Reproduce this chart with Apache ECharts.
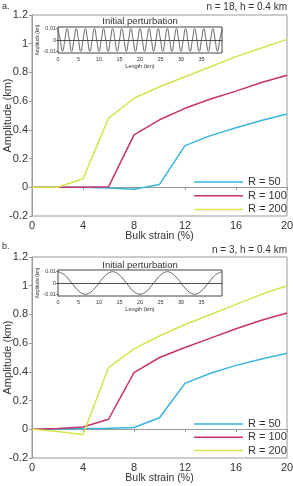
<!DOCTYPE html>
<html>
<head>
<meta charset="utf-8">
<script src="https://cdn.jsdelivr.net/npm/echarts@6/dist/echarts.min.js"></script>
<style>
  html, body { margin: 0; padding: 0; background: #fff; }
  #chart { width: 293px; height: 486px; }
</style>
</head>
<body>
<div id="chart"></div>
<script>
// bulk strain (%) - x of main panels
const strain = [0, 2, 4, 6, 8, 10, 12, 14, 16, 18, 20]
const seriesNames = ['R = 50', 'R = 100', 'R = 200']
const colors = ['#37b4e0', '#c8326c', '#d6e34c']

// panel a: n = 18
const ampA50 = [0, 0, 0, -0.005, -0.014, 0.02, 0.29, 0.36, 0.415, 0.465, 0.51]
const ampA100 = [0, 0, 0, 0.003, 0.365, 0.47, 0.55, 0.615, 0.67, 0.73, 0.78]
const ampA200 = [0, 0, 0.06, 0.48, 0.62, 0.7, 0.77, 0.84, 0.91, 0.97, 1.03]

// panel b: n = 3
const ampB50 = [0, 0.002, 0.005, 0.007, 0.012, 0.08, 0.32, 0.39, 0.445, 0.49, 0.53]
const ampB100 = [0, 0.005, 0.016, 0.07, 0.395, 0.5, 0.57, 0.635, 0.7, 0.76, 0.81]
const ampB200 = [0, -0.015, -0.037, 0.43, 0.56, 0.65, 0.73, 0.8, 0.87, 0.94, 1.0]

// initial perturbation over 40 km
const insetLength = 40
// n = 18: sampled every quarter wavelength
const waveA = [
  0.01, 0, -0.01, 0, 0.01, 0, -0.01, 0, 0.01, 0, -0.01, 0, 0.01, 0, -0.01, 0,
  0.01, 0, -0.01, 0, 0.01, 0, -0.01, 0, 0.01, 0, -0.01, 0, 0.01, 0, -0.01, 0,
  0.01, 0, -0.01, 0, 0.01, 0, -0.01, 0, 0.01, 0, -0.01, 0, 0.01, 0, -0.01, 0,
  0.01, 0, -0.01, 0, 0.01, 0, -0.01, 0, 0.01, 0, -0.01, 0, 0.01, 0, -0.01, 0,
  0.01, 0, -0.01, 0, 0.01, 0, -0.01, 0, 0.01
]
// n = 3: sampled every eighth wavelength
const waveB = [
  0.01, 0.007, 0, -0.007, -0.01, -0.007, 0, 0.007,
  0.01, 0.007, 0, -0.007, -0.01, -0.007, 0, 0.007,
  0.01, 0.007, 0, -0.007, -0.01, -0.007, 0, 0.007,
  0.01
]

const panelTitles = ['a.', 'b.']
const panelInfo = ['n = 18, h = 0.4 km', 'n = 3, h = 0.4 km']

const font = 'Liberation Sans, Arial, sans-serif'

function pairs(xs, ys) {
  return ys.map((v, i) => [xs[i], v])
}

function wavePairs(ys) {
  const step = insetLength / (ys.length - 1)
  return ys.map((v, i) => [i * step, v])
}

function mainAxes(gi) {
  return {
    x: {
      type: 'value', gridIndex: gi, min: 0, max: 20, interval: 4,
      name: 'Bulk strain (%)', nameLocation: 'middle', nameGap: 15, nameMoveOverlap: false,
      nameTextStyle: {fontSize: 10.5, color: '#333', fontFamily: font},
      axisLine: {lineStyle: {color: '#999'}},
      axisTick: {length: 3, lineStyle: {color: '#999'}},
      axisLabel: {fontSize: 11, color: '#333', margin: 4, fontFamily: font},
      splitLine: {show: false},
    },
    y: {
      type: 'value', gridIndex: gi, min: -0.2, max: 1.2, interval: 0.2,
      name: 'Amplitude (km)', nameLocation: 'middle', nameGap: 19, nameMoveOverlap: false,
      nameTextStyle: {fontSize: 11, color: '#333', fontFamily: font},
      axisLine: {show: true, lineStyle: {color: '#999'}},
      axisTick: {show: true, length: 3, lineStyle: {color: '#999'}},
      axisLabel: {fontSize: 11, color: '#333', margin: 4, fontFamily: font},
      splitLine: {show: false},
    }
  }
}

function insetAxes(gi) {
  return {
    x: {
      type: 'value', gridIndex: gi, min: 0, max: insetLength, interval: 5,
      name: 'Length (km)', nameLocation: 'middle', nameGap: 10, nameMoveOverlap: false,
      nameTextStyle: {fontSize: 5.5, color: '#333', fontFamily: font},
      axisLine: {lineStyle: {color: '#444'}},
      axisTick: {length: 1.5, lineStyle: {color: '#444'}},
      axisLabel: {fontSize: 5.5, color: '#333', margin: 3, showMaxLabel: false, fontFamily: font},
      splitLine: {show: false},
    },
    y: {
      type: 'value', gridIndex: gi, min: -0.0115, max: 0.0115,
      name: 'Amplitude (km)', nameLocation: 'middle', nameGap: 18, nameMoveOverlap: false,
      nameTextStyle: {fontSize: 4.5, color: '#333', fontFamily: font},
      axisLine: {show: true, lineStyle: {color: '#444'}},
      axisTick: {show: true, length: 1.5, customValues: [-0.01, 0, 0.01], lineStyle: {color: '#444'}},
      axisLabel: {fontSize: 5.5, color: '#333', margin: 2, customValues: [-0.01, 0, 0.01], fontFamily: font},
      splitLine: {show: false},
    }
  }
}

const mA = mainAxes(0), iA = insetAxes(1), mB = mainAxes(2), iB = insetAxes(3)

function lineSeries(name, data, xi, color) {
  return {
    name: name, type: 'line', xAxisIndex: xi, yAxisIndex: xi,
    data: pairs(strain, data), symbol: 'none', smooth: false,
    lineStyle: {color: color, width: 1.5}, itemStyle: {color: color},
    z: 3,
  }
}

function waveSeries(data, xi, smooth) {
  return {
    name: 'perturbation' + xi, type: 'line', xAxisIndex: xi, yAxisIndex: xi,
    data: wavePairs(data), symbol: 'none', smooth: smooth,
    lineStyle: {color: '#555', width: 0.9},
    markLine: {
      silent: true, symbol: 'none', label: {show: false},
      lineStyle: {color: '#222', width: 0.8, type: 'solid'},
      data: [{yAxis: 0}],
    },
    z: 6,
  }
}

function legendAt(top, gap) {
  return {
    data: seriesNames, orient: 'vertical', left: 194, top: top, padding: 0,
    icon: 'rect', itemWidth: 49, itemHeight: 1.5, itemGap: gap, selectedMode: false,
    textStyle: {fontSize: 11, lineHeight: 12, color: '#333', fontFamily: font},
  }
}

function titleAt(text, pos, size) {
  return Object.assign({text: text, padding: 0,
    textStyle: {fontSize: size, fontWeight: 'normal', color: '#333', fontFamily: font}}, pos)
}

const chart = echarts.init(document.getElementById('chart'), null, {renderer: 'canvas'})

chart.setOption({
  animation: false,
  backgroundColor: '#fff',
  textStyle: {fontFamily: font},
  title: [
    titleAt(panelTitles[0], {left: 2, top: 2}, 9),
    titleAt(panelInfo[0], {right: 6, top: 2}, 10),
    titleAt('Initial perturbation', {left: 140, top: 16, textAlign: 'center'}, 9.5),
    titleAt(panelTitles[1], {left: 2, top: 242}, 9),
    titleAt(panelInfo[1], {right: 6, top: 245}, 10),
    titleAt('Initial perturbation', {left: 140, top: 260, textAlign: 'center'}, 9.5),
  ],
  grid: [
    {left: 32, top: 15, width: 255, height: 201, outerBoundsMode: 'none', show: true, borderColor: '#999', borderWidth: 1, backgroundColor: 'transparent'},
    {left: 58, top: 27, width: 164, height: 26, outerBoundsMode: 'none', show: true, borderColor: '#444', borderWidth: 1, backgroundColor: '#fff', z: 5},
    {left: 32, top: 257, width: 255, height: 201, outerBoundsMode: 'none', show: true, borderColor: '#999', borderWidth: 1, backgroundColor: 'transparent'},
    {left: 58, top: 270, width: 164, height: 26, outerBoundsMode: 'none', show: true, borderColor: '#444', borderWidth: 1, backgroundColor: '#fff', z: 5},
  ],
  xAxis: [mA.x, iA.x, mB.x, iB.x],
  yAxis: [mA.y, iA.y, mB.y, iB.y],
  legend: [legendAt(176, 1.7), legendAt(418, 1.3)],
  series: [
    lineSeries(seriesNames[0], ampA50, 0, colors[0]),
    lineSeries(seriesNames[1], ampA100, 0, colors[1]),
    lineSeries(seriesNames[2], ampA200, 0, colors[2]),
    waveSeries(waveA, 1, 0.55),
    lineSeries(seriesNames[0], ampB50, 2, colors[0]),
    lineSeries(seriesNames[1], ampB100, 2, colors[1]),
    lineSeries(seriesNames[2], ampB200, 2, colors[2]),
    waveSeries(waveB, 3, 0.4),
  ],
})
</script>
</body>
</html>
